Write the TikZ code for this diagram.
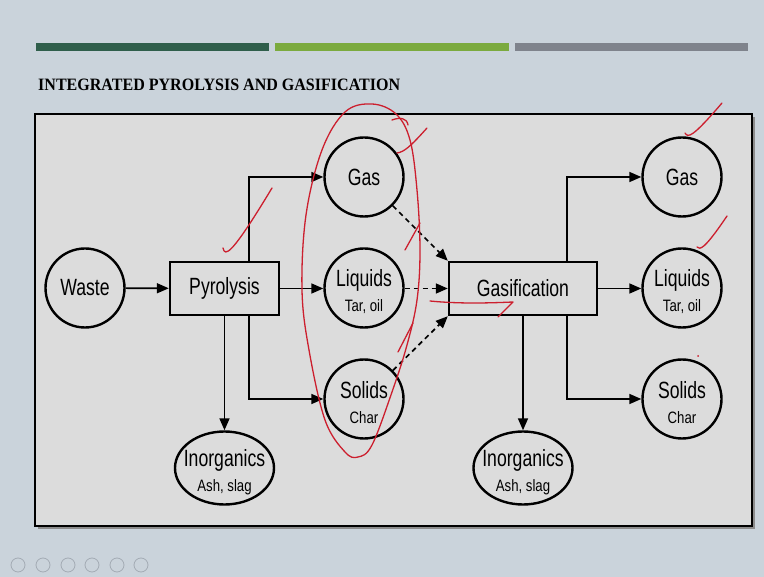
\documentclass[tikz,border=0pt]{standalone}
\usepackage{fontspec}
\usepackage{graphicx}
\setmainfont{Liberation Sans}
\newfontfamily\titlefont{Liberation Serif}
\usetikzlibrary{arrows.meta,shapes.geometric}
\definecolor{slidebg}{HTML}{CAD3DB}
\definecolor{boxbg}{HTML}{DCDCDC}
\definecolor{bardark}{HTML}{2F5E4B}
\definecolor{barlight}{HTML}{7BAA3E}
\definecolor{bargray}{HTML}{7F838C}
\definecolor{pen}{HTML}{CC1F2E}
\definecolor{iconc}{HTML}{A3ABB4}
\newcommand\bigt[1]{\scalebox{0.75}[1]{\fontsize{23.5}{26}\selectfont #1}}
\newcommand\smt[1]{\scalebox{0.8}[1]{\fontsize{16.5}{26}\selectfont #1}}
\newcommand\twol[2]{\rule{0pt}{25pt}\bigt{#1}\\\smt{#2}}
\tikzset{
  circ/.style={circle,draw,line width=2.4pt,minimum size=79pt,inner sep=0pt,align=center,font=\fontsize{22}{25}\selectfont},
  ellnode/.style={ellipse,draw,line width=2.4pt,minimum width=99pt,minimum height=73pt,inner xsep=-16pt,inner ysep=-12pt,align=center,font=\fontsize{22}{25}\selectfont},
  procbox/.style={rectangle,draw,line width=2.4pt,inner sep=0pt},
  arr/.style={line width=1.7pt,-{Triangle[length=12pt,width=10pt]}},
  dasharr/.style={line width=1.7pt,dash pattern=on 5pt off 4pt,-{Triangle[length=12pt,width=10pt]}},
  redpen/.style={pen,line width=1.3pt,line cap=round,line join=round},
  icon/.style={iconc,line width=0.8pt}
}
\begin{document}
\begin{tikzpicture}[x=1pt,y=-1pt]
\useasboundingbox (0,0) rectangle (764,577);
\fill[slidebg] (0,0) rectangle (764,577);
% header bars
\fill[bardark] (36,43) rectangle (269,51);
\fill[barlight] (275,43) rectangle (509,51);
\fill[bargray] (515,43) rectangle (748,51);
% title
\node[anchor=south west,inner sep=0pt] (title) at (38,91)
  {\resizebox{362pt}{11.5pt}{\titlefont\bfseries INTEGRATED PYROLYSIS AND GASIFICATION}};
% main box
\fill[black!45] (38,117) rectangle (755,529);
\filldraw[fill=boxbg,draw=black,line width=2.8pt] (35,114) rectangle (752,526);
% nodes
\node[circ] (waste) at (85,288) {\bigt{Waste}};
\node[procbox,minimum width=109pt,minimum height=53pt] (pyro) at (224.5,288.5) {\bigt{Pyrolysis}};
\node[circ] (gas1) at (364,177) {\bigt{Gas}};
\node[circ] (liq1) at (364,288) {\twol{Liquids}{Tar, oil}};
\node[circ] (sol1) at (364,399) {\twol{Solids}{Char}};
\node[ellnode] (ino1) at (224.5,468) {\twol{Inorganics}{Ash, slag}};
\node[procbox,minimum width=148pt,minimum height=53pt] (gasif) at (523,288.5) {\bigt{Gasification}};
\node[circ] (gas2) at (682,177) {\bigt{Gas}};
\node[circ] (liq2) at (682,288) {\twol{Liquids}{Tar, oil}};
\node[circ] (sol2) at (682,399) {\twol{Solids}{Char}};
\node[ellnode] (ino2) at (523,468) {\twol{Inorganics}{Ash, slag}};
% connectors
\draw[arr] (waste) -- (pyro);
\draw[arr] (pyro) -- (pyro -| liq1.west);
\draw[arr] ([xshift=24.5pt]pyro.north) |- (gas1);
\draw[arr] ([xshift=24.5pt]pyro.south) |- (sol1);
\draw[arr] (pyro.south) -- (ino1);
\draw[dasharr] (gas1) -- (gasif.north west);
\draw[dasharr] (liq1.east |- gasif.west) -- (gasif.west);
\draw[dasharr] (sol1) -- (gasif.south west);
\draw[arr] (gasif) -- (gasif -| liq2.west);
\draw[arr] ([xshift=44pt]gasif.north) |- (gas2);
\draw[arr] ([xshift=44pt]gasif.south) |- (sol2);
\draw[arr] (gasif.south) -- (ino2);
% red hand annotations
\draw[redpen] plot[smooth cycle,tension=0.6] coordinates {(372,104) (345,112) (322,150) (306,215) (302,290) (309,350) (325,420) (345,452) (358,457) (372,445) (392,392) (407,345) (417,300) (420,250) (417,190) (410,140) (396,114)};
\draw[redpen] (392,120) .. controls (400,117) and (407,118) .. (408,125);
\draw[redpen] (397,153) .. controls (404,152) and (410,147) .. (427,128);
\draw[redpen] (405,250) -- (420,223);
\draw[redpen] (398,352) -- (413,323);
\draw[redpen] (223,248) .. controls (225,257) and (231,256) .. (272,188);
\draw[redpen] (685,133) .. controls (688,138) and (692,138) .. (722,103);
\draw[redpen] (697,247) .. controls (700,250) and (704,250) .. (727,216);
\draw[redpen] (430,301) .. controls (460,304) and (490,303) .. (513,302) -- (498,317);
\fill[pen] (698,356) circle (1pt);
% footer icons
\foreach \ix in {18,43,68,92,117,141}{
  \draw[icon] (\ix,565) circle (7pt);
}
\end{tikzpicture}
\end{document}
